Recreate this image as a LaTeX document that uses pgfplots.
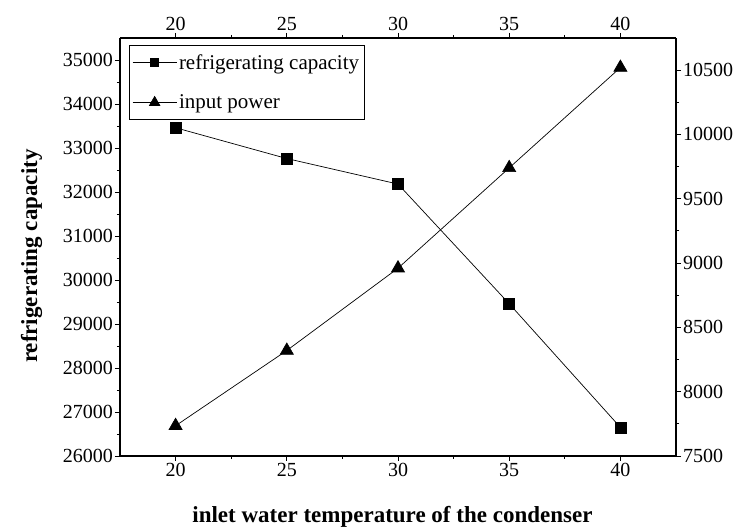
\documentclass[border=0pt]{standalone}
\usepackage{pgfplots}
\pgfplotsset{compat=1.18}
\usepackage{fontspec}
\setmainfont{Liberation Serif}
\begin{document}
\begin{tikzpicture}
\pgfplotsset{
  common/.style={
    scale only axis, width=556pt, height=418pt,
    xmin=17.5, xmax=42.5,
    xtick={20,25,30,35,40},
    minor x tick num=1, minor y tick num=1,
    tick align=outside,
    major tick length=5pt, minor tick length=3pt,
    every tick/.style={black, line width=0.9pt},
    axis line style={line width=1.2pt},
    tick label style={font=\fontsize{20}{24}\selectfont, inner sep=2pt},
    /pgf/number format/assume math mode=true,
    /pgf/number format/1000 sep={},
    scaled y ticks=false,
    legend image code/.code={\draw[mark repeat=2,mark phase=2] plot coordinates {(0pt,0pt)(22pt,0pt)(44pt,0pt)};},
  }
}
\begin{axis}[common, name=ax,
  ymin=26000, ymax=35500,
  ytick={26000,27000,...,35000},
  axis x line*=bottom, axis y line*=left,
  xlabel={\bfseries inlet water temperature of the condenser},
  ylabel={\bfseries refrigerating capacity},
  label style={font=\fontsize{23}{27}\selectfont\bfseries},
  ylabel style={at={(axis description cs:-0.159,0.478)}, anchor=center},
  xlabel style={at={(axis description cs:0.49,-0.145)}, anchor=center},
]
\addplot[black, line width=0.7pt, mark=square*, mark size=5.5pt, mark options={solid}]
  coordinates {(20,33460) (25,32760) (30,32180) (35,29460) (40,26650)};
\end{axis}
\begin{axis}[common,
  ymin=7500, ymax=10750,
  ytick={7500,8000,...,10500},
  axis x line*=top, axis y line*=right,
  xticklabel pos=upper,
  legend cell align=left,
  legend style={at={(axis description cs:0.016,0.983)}, anchor=north west,
    draw=black, line width=0.8pt, font=\fontsize{21}{25}\selectfont,
    row sep=20pt, inner xsep=3pt, inner ysep=7pt},
]
\addlegendimage{black, line width=0.7pt, mark=square*, mark size=4pt}
\addlegendentry{refrigerating capacity}
\addplot[black, line width=0.7pt, mark=triangle*, mark size=7.5pt, forget plot]
  coordinates {(20,7735) (25,8320) (30,8960) (35,9740) (40,10520)};
\addlegendimage{black, line width=0.7pt, mark=triangle*, mark size=6pt}
\addlegendentry{input power}
\end{axis}
\path ([xshift=-120pt,yshift=-75pt]ax.south west) rectangle ([xshift=62pt,yshift=38pt]ax.north east);
\end{tikzpicture}
\end{document}
